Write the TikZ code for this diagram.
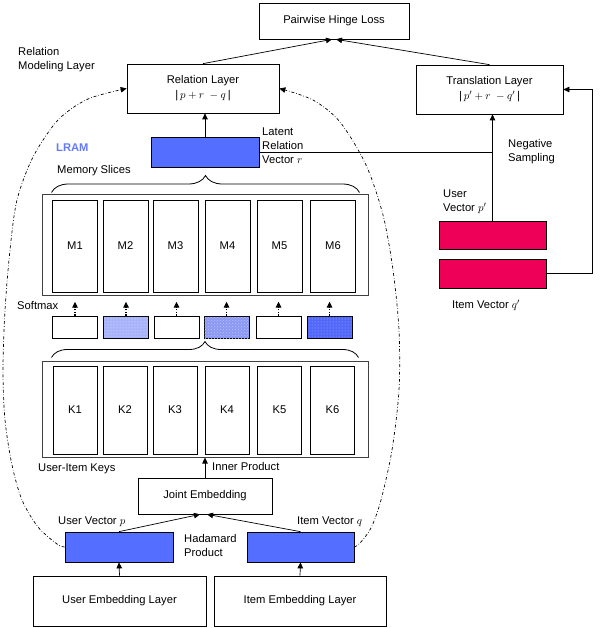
\documentclass[tikz,border=0pt]{standalone}
\usepackage{fontspec}
\setmainfont{Liberation Sans}
\usetikzlibrary{arrows.meta, decorations.pathreplacing, patterns}
\definecolor{vecblue}{RGB}{84,110,255}
\definecolor{negred}{RGB}{238,0,88}
\definecolor{lramblue}{RGB}{100,122,255}

\begin{document}
\begin{tikzpicture}[x=1pt, y=-1pt, >={Triangle[length=6pt,width=5.5pt]},
  font=\fontsize{11.2}{14}\selectfont,
  box/.style={draw, line width=0.7pt, inner sep=0pt, align=center},
  sz/.style 2 args={minimum width=#1pt, minimum height=#2pt},
  vec/.style={box, fill=vecblue},
  neg/.style={box, fill=negred},
  outer/.style={box, draw=black!75, line width=1pt},
  lbl/.style={anchor=west, align=left, inner sep=0pt},
  plain/.style={},
  light/.style={fill={rgb,255:red,168;green,180;blue,250}, postaction={pattern=dots, pattern color=white!80!vecblue}},
  mid/.style={fill={rgb,255:red,140;green,152;blue,242}, postaction={pattern=crosshatch dots, pattern color=white!60!vecblue}},
  strong/.style={fill={rgb,255:red,82;green,104;blue,248}, postaction={pattern=dots, pattern color=white!50!vecblue}},
  dotarrow/.style={->, line width=1.3pt, dash pattern=on 1.3pt off 1.3pt},
  dashdot/.style={->, line width=0.7pt, dash pattern=on 3pt off 2pt on 0.6pt off 2pt},
  conn/.style={->, line width=0.7pt}]
\useasboundingbox (0,0) rectangle (602,628);

\node[box, sz={150}{36}] (loss) at (334,21) {Pairwise Hinge Loss};
\node[box, sz={152}{49}] (rel) at (203,88.5) {Relation Layer\\[1pt] |\,$p+r\;-q$\,|};
\node[box, sz={147}{49}] (trans) at (489.5,89.5) {Translation Layer\\[1pt] |\,$p'+r\;-q'$\,|};
\node[vec, sz={108}{30}] (lat) at (205,152) {};

\node[outer, sz={326}{100}] (mem) at (205,245) {};
\foreach \x [count=\i] in {75,125.5,175.5,227.5,279.5,333}
  \node[box, sz={45}{92}] (m\i) at (\x,246) {M\i};
\foreach \x/\s [count=\i] in {75/plain,126/light,176.5/plain,226.5/mid,278.5/plain,329.5/strong}
  \node[box, \s, sz={45}{22}] (s\i) at (\x,327) {};
\foreach \i in {1,...,6}
  \draw[dotarrow] (s\i.north) -- ++(0,-14);

\node[outer, sz={326}{96}] (keys) at (205,409) {};
\foreach \x [count=\i] in {75,125,175,227,279.5,332.5}
  \node[box, sz={44}{88}] (k\i) at (\x,410) {K\i};

\node[box, sz={134}{36}] (joint) at (205,496) {Joint Embedding};
\node[vec, sz={108}{30}] (vp) at (119,547) {};
\node[vec, sz={107}{30}] (vq) at (300.5,547) {};
\node[box, sz={173}{50}] (ue) at (119.5,601) {User Embedding Layer};
\node[box, sz={172}{50}] (ie) at (300,601) {Item Embedding Layer};
\node[neg, sz={107}{28}] (vpn) at (492.5,235) {};
\node[neg, sz={107}{29}] (vqn) at (492.5,273.5) {};

\node[lbl] (rml) at (18,60) {Relation\\Modeling Layer};
\node[lbl, text=lramblue, font=\fontsize{11.2}{14}\selectfont\bfseries] (lram) at (56,148) {LRAM};
\node[lbl] (mems) at (57,171) {Memory Slices};
\node[lbl] (latl) at (262,146) {Latent\\Relation\\Vector $r$};
\node[lbl] (negs) at (508,152) {Negative\\Sampling};
\node[lbl] (vpnl) at (443,201.5) {User\\Vector $p'$};
\node[lbl] (vqnl) at (452,305) {Item Vector $q'$};
\node[lbl] (smax) at (17,306) {Softmax};
\node[lbl] (keysl) at (38,469) {User-Item Keys};
\node[lbl] (inner) at (212,466) {Inner Product};
\node[lbl] (vpl) at (58,522) {User Vector $p$};
\node[lbl] (vql) at (297,522) {Item Vector $q$};
\node[lbl] (hada) at (184,545) {Hadamard\\Product};

\draw[conn] (rel.north) -- ([xshift=-2pt]loss.south);
\draw[conn] (trans.north) -- ([xshift=2pt]loss.south);
\draw[conn] (lat.north) -- (lat.north |- rel.south);
\draw[line width=0.7pt] (lat.east) -- (lat.east -| vpn.north);
\draw[conn] (vpn.north) -- (vpn.north |- trans.south);
\draw[conn] (vqn.east) -- ++(46,0) |- (trans.east);
\draw[conn] (joint.north) -- (keys.south);
\draw[conn] (vp.north) -- ([xshift=-5pt]joint.south);
\draw[conn] (vq.north) -- ([xshift=2pt]joint.south);
\draw[conn] (ue.north) -- (vp.south);
\draw[conn] (ie.north) -- (vq.south);

\draw[line width=0.8pt, decorate, decoration={brace, amplitude=17pt}]
  ([shift={(10,-2)}]mem.north west) -- ([shift={(-9,-2)}]mem.north east);
\draw[line width=0.8pt, decorate, decoration={brace, amplitude=16pt}]
  ([shift={(10,-3)}]keys.north west) -- ([shift={(-10,-3)}]keys.north east);

\draw[dashdot] plot[smooth] coordinates {(vp.west) (57,544) (38,527) (22,500) (12,465) (5,420) (3,370)
  (5,310) (10,250) (17,200) (33,157) (58,120) (88,99) (rel.west)};
\draw[dashdot] plot[smooth] coordinates {(vq.east) (360,543) (371,528) (381,500) (392,450) (399,390)
  (399,330) (393,270) (383,215) (366,165) (340,122) (313,100) (rel.east)};
\end{tikzpicture}
\end{document}
